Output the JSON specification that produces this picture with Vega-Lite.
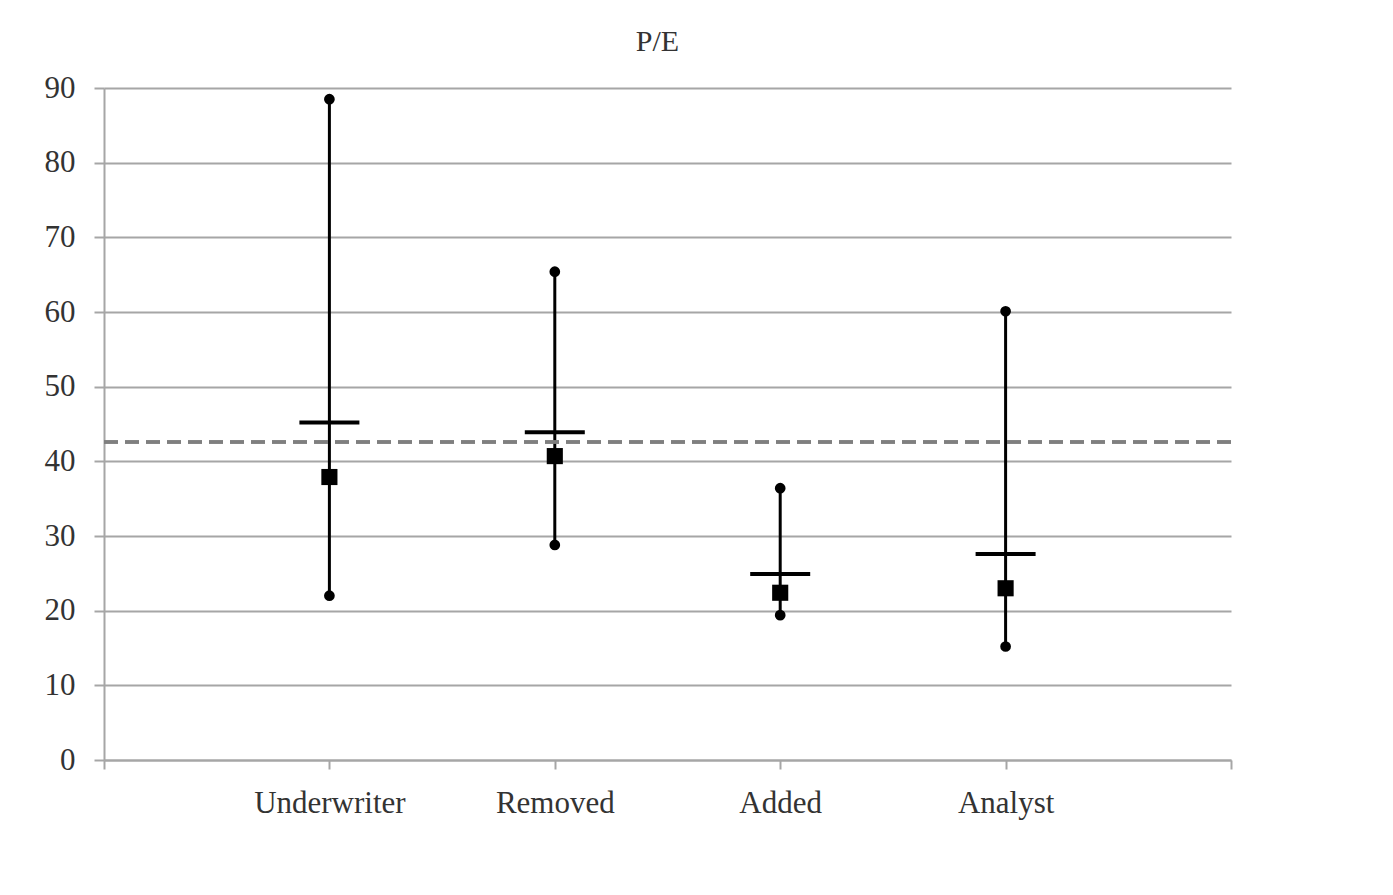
{
  "$schema": "https://vega.github.io/schema/vega-lite/v6.json",
  "autosize": "none",
  "width": 1127,
  "height": 672,
  "padding": {"left": 104, "top": 88, "right": 162, "bottom": 135},
  "background": "white",
  "title": {"text": "P/E", "font": "Liberation Serif", "fontSize": 30, "fontWeight": "normal", "color": "#333333", "offset": 15, "dx": -10},
  "config": {"view": {"stroke": null}},
  "data": {"values": [
    {"group": "Underwriter", "pos": 1, "max": 88.5, "min": 22.0, "mean": 37.9, "bar": 45.2},
    {"group": "Removed", "pos": 2, "max": 65.4, "min": 28.8, "mean": 40.7, "bar": 43.9},
    {"group": "Added", "pos": 3, "max": 36.4, "min": 19.4, "mean": 22.4, "bar": 24.9},
    {"group": "Analyst", "pos": 4, "max": 60.1, "min": 15.2, "mean": 23.0, "bar": 27.6}
  ]},
  "encoding": {
    "x": {"field": "pos", "type": "quantitative", "scale": {"domain": [0, 5], "nice": false, "zero": false},
      "axis": {"values": [0, 1, 2, 3, 4, 5], "grid": false, "title": null,
        "labelExpr": "datum.value == 1 ? 'Underwriter' : datum.value == 2 ? 'Removed' : datum.value == 3 ? 'Added' : datum.value == 4 ? 'Analyst' : ''",
        "labelFont": "Liberation Serif", "labelFontSize": 31, "labelColor": "#333333", "labelPadding": 19,
        "domainColor": "#a6a6a6", "domainWidth": 2, "tickColor": "#a6a6a6", "tickWidth": 2, "tickSize": 9}}
  },
  "layer": [
    {
      "mark": {"type": "rule", "color": "black", "strokeWidth": 3},
      "encoding": {
        "y": {"field": "max", "type": "quantitative", "scale": {"domain": [0, 90], "nice": false},
          "axis": {"values": [0, 10, 20, 30, 40, 50, 60, 70, 80, 90], "title": null, "grid": true,
            "gridColor": "#a6a6a6", "gridWidth": 2, "domainColor": "#a6a6a6", "domainWidth": 2,
            "tickColor": "#a6a6a6", "tickWidth": 2, "tickSize": 10,
            "labelFont": "Liberation Serif", "labelFontSize": 31, "labelColor": "#333333", "labelPadding": 19}},
        "y2": {"field": "min"}
      }
    },
    {
      "mark": {"type": "rule", "color": "#7f7f7f", "strokeWidth": 3, "strokeDash": [14, 7]},
      "encoding": {"y": {"datum": 42.6, "type": "quantitative"}, "x": {"value": 0}, "x2": {"value": 1127}}
    },
    {
      "mark": {"type": "point", "shape": "circle", "filled": true, "color": "black", "opacity": 1, "size": 115},
      "encoding": {"y": {"field": "max", "type": "quantitative"}}
    },
    {
      "mark": {"type": "point", "shape": "circle", "filled": true, "color": "black", "opacity": 1, "size": 115},
      "encoding": {"y": {"field": "min", "type": "quantitative"}}
    },
    {
      "mark": {"type": "point", "shape": "square", "filled": true, "color": "black", "opacity": 1, "size": 260},
      "encoding": {"y": {"field": "mean", "type": "quantitative"}}
    },
    {
      "mark": {"type": "tick", "orient": "horizontal", "color": "black", "opacity": 1, "size": 60, "thickness": 4},
      "encoding": {"y": {"field": "bar", "type": "quantitative"}}
    }
  ]
}
